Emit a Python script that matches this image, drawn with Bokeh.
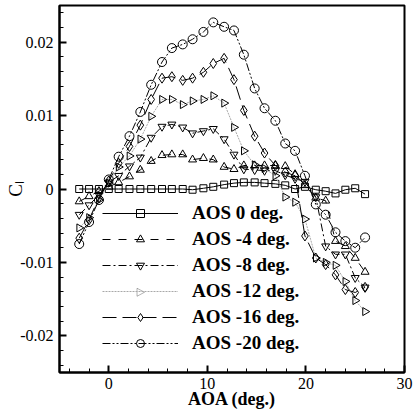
import math
from bokeh.plotting import figure
from bokeh.models import Range1d, FixedTicker, Legend, LegendItem, PolyAnnotation
from bokeh.embed import file_html
from bokeh.resources import INLINE

# AOA positions (deg.)
aoa = [-3, -2, -1, 0, 1, 2.1, 3.2, 4.3, 5.4, 6.4, 7.5, 8.5, 9.6, 10.6, 11.7,
       12.7, 13.7, 14.8, 15.8, 16.9, 17.9, 18.9, 19.9, 21, 22, 23, 24, 25, 26]

cl_aos0 = [0, 0, 0, 0, 0, 0, 0, 0, 0, 0, 0, -0.0001, 0.0001, 0.0003, 0.0006,
           0.0008, 0.0009, 0.0009, 0.0008, 0.0007, 0.0005, 0.0, 0.0003, -0.0001,
           -0.0003, -0.0006, -0.0001, 0.0001, -0.0007]
cl_aos4 = [-0.0017, -0.0010, -0.0003, 0.0003, 0.0009, 0.0017, 0.0026, 0.0038,
           0.0046, 0.0047, 0.0047, 0.0040, 0.0042, 0.0040, 0.0030, 0.0027, 0.0032,
           0.0032, 0.0032, 0.0032, 0.0031, 0.0020, 0.0005, -0.0012, -0.0016,
           -0.0071, -0.0078, -0.0094, -0.0113]
cl_aos8 = [-0.0035, -0.0022, -0.0008, 0.0009, 0.0018, 0.0031, 0.0043, 0.0070,
           0.0085, 0.0088, 0.0084, 0.0076, 0.0079, 0.0082, 0.0068, 0.0047, 0.0027,
           0.0026, 0.0025, 0.0025, 0.0019, 0.0014, 0.0010, -0.0011, -0.0078,
           -0.0089, -0.0089, -0.0121, -0.0134]
cl_aos12 = [-0.0053, -0.0039, -0.0015, 0.0008, 0.0030, 0.0045, 0.0068, 0.0099,
            0.0122, 0.0122, 0.0115, 0.0120, 0.0122, 0.0127, 0.0117, 0.0084, 0.0052,
            0.0033, 0.0028, 0.0018, -0.0011, -0.0018, -0.0041, -0.0094, -0.0100,
            -0.0104, -0.0126, -0.0152, -0.0167]
cl_aos16 = [-0.0067, -0.0042, -0.0012, 0.0011, 0.0035, 0.0058, 0.0087, 0.0122,
            0.0151, 0.0153, 0.0148, 0.0151, 0.0159, 0.0171, 0.0178, 0.0149, 0.0107,
            0.0072, 0.0049, 0.0032, 0.0023, 0.0018, -0.0064, -0.0094, -0.0103,
            -0.0117, -0.0137, -0.0141, -0.0134]
cl_aos20 = [-0.0075, -0.0045, -0.0015, 0.0013, 0.0044, 0.0072, 0.0105, 0.0142,
            0.0173, 0.0192, 0.0197, 0.0204, 0.0214, 0.0227, 0.0221, 0.0216, 0.0183,
            0.0137, 0.0110, 0.0093, 0.0062, 0.0052, 0.0018, -0.0021, -0.0035,
            -0.0059, -0.0071, -0.0080, -0.0066]

labels = ["AOS 0 deg.", "AOS -4 deg.", "AOS -8 deg.", "AOS -12 deg.",
          "AOS -16 deg.", "AOS -20 deg."]

y_ticks = [-0.02, -0.01, 0, 0.01, 0.02]
y_tick_labels = ["-0.02", "-0.01", "0", "0.01", "0.02"]
x_ticks = [0, 10, 20, 30]

series = [cl_aos0, cl_aos4, cl_aos8, cl_aos12, cl_aos16, cl_aos20]
styles = [
    dict(marker="square", size=7, angle=0, dash="solid", color="black"),
    dict(marker="triangle", size=8, angle=0, dash="8 8", color="black"),
    dict(marker="inverted_triangle", size=8, angle=0, dash="8 3 2 3", color="black"),
    dict(marker="triangle", size=8, angle=-math.pi / 2, dash="2 1", color="#a8a8a8"),
    dict(marker="diamond", size=10, angle=0, dash="14 6", color="black"),
    dict(marker="circle", size=9, angle=0, dash="8 2 2 2 2 2", color="black"),
]

p = figure(width=413, height=415, output_backend="svg", toolbar_location=None,
           x_range=Range1d(-5, 30), y_range=Range1d(-0.025, 0.025),
           min_border_left=59, min_border_right=9, min_border_top=5,
           min_border_bottom=43)
p.grid.visible = False
p.outline_line_color = "black"
p.outline_line_width = 2

p.xaxis.ticker = FixedTicker(ticks=x_ticks,
                             minor_ticks=[v for v in range(-4, 30, 2) if v % 10 != 0])
p.yaxis.ticker = FixedTicker(ticks=y_ticks,
                             minor_ticks=[round(-0.024 + 0.002 * i, 3) for i in range(25)])
p.yaxis.major_label_overrides = {t: s for t, s in zip(y_ticks, y_tick_labels)}

for ax in (p.xaxis[0], p.yaxis[0]):
    ax.axis_line_width = 2
    ax.major_tick_in = 7
    ax.major_tick_out = 0
    ax.minor_tick_in = 4
    ax.minor_tick_out = 0
    ax.major_tick_line_width = 2
    ax.minor_tick_line_width = 1
    ax.major_label_text_font = "Liberation Serif"
    ax.major_label_text_font_size = "16px"
    ax.major_label_text_color = "black"
    ax.axis_label_text_font = "Liberation Serif"
    ax.axis_label_text_color = "black"

p.xaxis.major_label_standoff = 5
p.xaxis.axis_label = "AOA (deg.)"
p.xaxis.axis_label_text_font_style = "bold"
p.xaxis.axis_label_text_font_size = "18px"
p.xaxis.axis_label_standoff = -3

p.yaxis.major_label_standoff = 6
p.yaxis.axis_label = "C\u2097"
p.yaxis.axis_label_text_font_style = "normal"
p.yaxis.axis_label_text_font_size = "19px"
p.yaxis.axis_label_standoff = -9

# legend layout (screen px, relative to the plot frame)
leg_x, leg_y = 43, 18
glyph_w, row_spacing = 76, 4

items = []
for i, (lab, ys, st) in enumerate(zip(labels, series, styles)):
    ln = p.line(aoa, ys, line_color=st["color"], line_width=1, line_dash=st["dash"])
    sc = p.scatter(aoa, ys, marker=st["marker"], size=st["size"], angle=st["angle"],
                   fill_color=None, line_color="black", line_width=1)
    rends = [ln, sc] if st["angle"] == 0 else [ln]
    items.append(LegendItem(label=lab, renderers=rends))

legend = Legend(items=items, location=(leg_x, leg_y), padding=0, margin=0,
                spacing=row_spacing, glyph_width=glyph_w, glyph_height=20,
                label_height=20, label_standoff=14,
                label_text_font="Liberation Serif", label_text_font_style="bold",
                label_text_font_size="19px", label_text_color="black",
                background_fill_alpha=0, border_line_alpha=0)
p.add_layout(legend)

# right-pointing triangle symbol for the "AOS -12 deg." legend row
row_h = 21.7 + row_spacing
cx = leg_x + glyph_w / 2
cy = leg_y + (len(labels) - 1 - 3) * row_h + 21.7 / 2
h = 4.0
p.add_layout(PolyAnnotation(xs=[cx - h * 0.87, cx - h * 0.87, cx + h * 0.87 * 1.15],
                            ys=[cy + h, cy - h, cy],
                            xs_units="screen", ys_units="screen",
                            fill_alpha=0, line_color="black", line_width=1))

open("out.html", "w").write(file_html(p, INLINE))
